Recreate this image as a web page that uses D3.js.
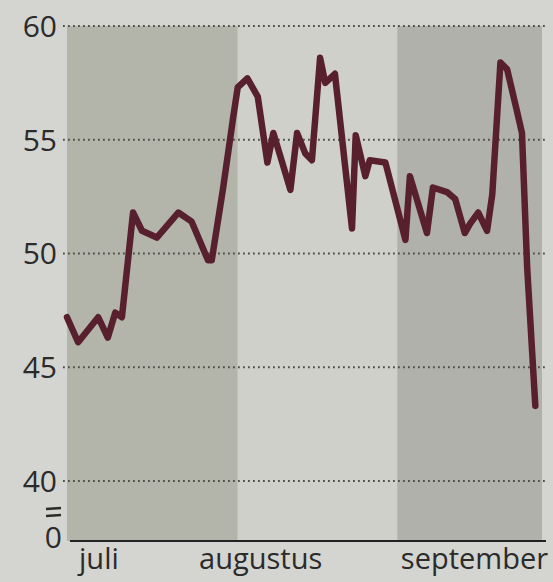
<!DOCTYPE html>
<html>
<head>
<meta charset="utf-8">
<script src="https://cdn.jsdelivr.net/npm/d3@7"></script>
<style>
	body { margin: 0; background: #d4d4d0; }
	svg { display: block; }
	.tick-label { font-family: 'Open Sans', sans-serif; fill: #2b2b2b; }
</style>
</head>
<body>
<div class="chart-container"></div>
<script>

	//DATA
	//x = trading day since start of juli, y = index value
	const days = [0, 1.5, 4.2, 5.5, 6.5, 7.4, 8.9, 10.1, 12.1, 15.0, 16.8, 19.0, 19.5, 21.0, 22.4, 23.0,
		24.3, 25.7, 27.0, 27.8, 30.1, 31.0, 32.1, 33.0, 34.1, 34.8, 36.1, 38.4, 38.9, 40.2, 40.8, 42.9,
		45.6, 46.2, 48.5, 49.3, 51.2, 52.3, 53.6, 54.3, 55.4, 56.6, 57.3, 58.4, 59.3, 60.6, 61.3, 62.0, 63.1];
	const values = [47.2, 46.1, 47.2, 46.3, 47.4, 47.2, 51.8, 51.0, 50.7, 51.8, 51.4, 49.7, 49.7, 52.8, 56.0, 57.3,
		57.7, 56.9, 54.0, 55.3, 52.8, 55.3, 54.4, 54.1, 58.6, 57.5, 57.9, 51.1, 55.2, 53.4, 54.1, 54.0,
		50.6, 53.4, 50.9, 52.9, 52.7, 52.4, 50.9, 51.3, 51.8, 51.0, 52.6, 58.4, 58.1, 56.3, 55.3, 49.4, 43.3];

	const months = ['juli', 'augustus', 'september'];
	const monthStart = [0, 23, 44.5];
	const monthEnd = [23, 44.5, 64];
	const monthLabelAt = [4.3, 26.1, 54.9];
	const yTicks = [40, 45, 50, 55, 60];

	const width = 553,
	    height = 582;

	const xScale = d3.scaleLinear().domain([0, 64]).range([67, 542]);
	const yScale = d3.scaleLinear().domain([40, 60]).range([481, 26]);
	const zeroY = 541; // broken axis, 0 sits below 40

	const bandColor = ['#b3b4aa', '#d0d0cb', '#b1b1ab'];

	const svg = d3.select('.chart-container')
		.append('svg')
		.attr('width', width)
		.attr('height', height);

	//MONTH BANDS
	svg.selectAll('.band')
		.data(months)
		.enter()
		.append('rect')
		.attr('class', 'band')
		.attr('x', (d, i) => xScale(monthStart[i]))
		.attr('width', (d, i) => xScale(monthEnd[i]) - xScale(monthStart[i]))
		.attr('y', yScale(60))
		.attr('height', zeroY - yScale(60))
		.style('fill', (d, i) => bandColor[i]);

	//GRIDLINES
	svg.selectAll('.grid')
		.data(yTicks)
		.enter()
		.append('line')
		.attr('class', 'grid')
		.attr('x1', xScale(0) - 4)
		.attr('x2', xScale(64) + 3)
		.attr('y1', d => yScale(d))
		.attr('y2', d => yScale(d))
		.style('stroke', '#4f4f4a')
		.style('stroke-width', 1.8)
		.style('stroke-dasharray', '1.8,3.2');

	//Y LABELS
	svg.selectAll('.ylab')
		.data(yTicks)
		.enter()
		.append('text')
		.attr('class', 'tick-label ylab')
		.attr('x', 57)
		.attr('y', d => yScale(d))
		.attr('dy', '0.36em')
		.style('text-anchor', 'end')
		.style('font-size', '30px')
		.text(d => d);

	svg.append('text')
		.attr('class', 'tick-label')
		.attr('x', 62)
		.attr('y', zeroY - 4)
		.attr('dy', '0.36em')
		.style('text-anchor', 'end')
		.style('font-size', '30px')
		.text('0');

	//AXIS BREAK
	svg.selectAll('.brk')
		.data([0, 7])
		.enter()
		.append('line')
		.attr('class', 'brk')
		.attr('x1', 46)
		.attr('x2', 61)
		.attr('y1', d => 509 + d)
		.attr('y2', d => 508 + d)
		.style('stroke', '#2b2b2b')
		.style('stroke-width', 2.6);

	//BASELINE
	svg.append('line')
		.attr('x1', xScale(0) + 3)
		.attr('x2', xScale(64) + 4)
		.attr('y1', zeroY)
		.attr('y2', zeroY)
		.style('stroke', '#222')
		.style('stroke-width', 2.2);

	//MONTH LABELS
	svg.selectAll('.mlab')
		.data(months)
		.enter()
		.append('text')
		.attr('class', 'tick-label mlab')
		.attr('x', (d, i) => xScale(monthLabelAt[i]))
		.attr('y', 569)
		.style('text-anchor', 'middle')
		.style('font-size', '29px')
		.text(d => d);

	//LINE
	const line = d3.line()
		.x((d, i) => xScale(days[i]))
		.y(d => yScale(d));

	svg.append('path')
		.datum(values)
		.attr('d', line)
		.style('fill', 'none')
		.style('stroke', '#58202f')
		.style('stroke-width', 6.5)
		.style('stroke-linejoin', 'round')
		.style('stroke-linecap', 'round');

</script>
</body>
</html>
